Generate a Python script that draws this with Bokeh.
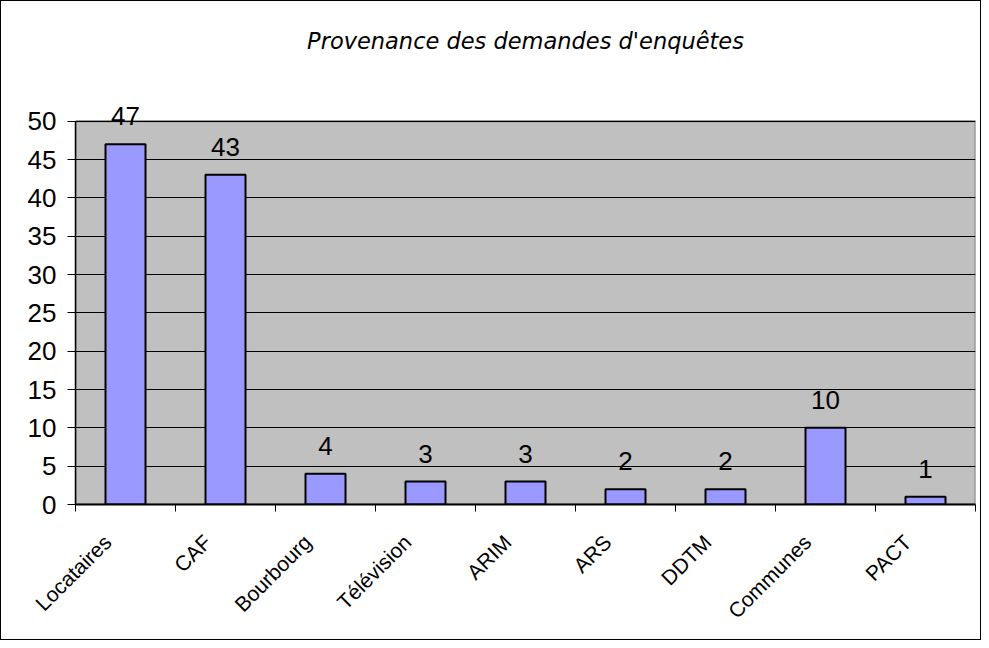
import math
from bokeh.plotting import figure
from bokeh.models import ColumnDataSource, FixedTicker, LinearAxis, Range1d, LabelSet, Title
from bokeh.core.properties import value
from bokeh.embed import file_html
from bokeh.resources import INLINE

categories = ["Locataires", "CAF", "Bourbourg", "Télévision", "ARIM", "ARS", "DDTM", "Communes", "PACT"]
values = [47, 43, 4, 3, 3, 2, 2, 10, 1]
y_ticks = [0, 5, 10, 15, 20, 25, 30, 35, 40, 45, 50]
title_text = "Provenance des demandes d'enquêtes"

n = len(categories)
ymax = y_ticks[-1]
xs = [i + 0.5 for i in range(n)]
src = ColumnDataSource(dict(x=xs, top=values, lab=[str(v) for v in values]))

# y range extends a little above the last tick so the top value label is not clipped
p = figure(width=981, height=640, output_backend="svg", toolbar_location=None,
           x_range=Range1d(0, n), y_range=Range1d(0, ymax * 1.08),
           x_axis_location=None, y_axis_location=None)
p.styles = {"border": "1px solid black", "box-sizing": "border-box"}
p.min_border_left = 74
p.min_border_right = 7
p.min_border_top = 89
p.min_border_bottom = 137

# spacer between frame and title
spacer = Title(text=" ", text_font_size="1px", standoff=29)
p.add_layout(spacer, "above")

p.title.text = title_text
p.title.align = "center"
p.title.text_font = "DejaVu Sans"
p.title.text_font_style = "italic"
p.title.text_font_size = "22.5px"
p.title.text_color = "#000000"
p.title.standoff = 10

p.background_fill_color = "white"
p.border_fill_color = "white"
p.outline_line_color = None

# plot area (grey wall) spanning the value axis range
p.quad(left=[0], right=[n], bottom=[0], top=[ymax], fill_color="#c0c0c0",
       line_color="#808080", line_width=2, level="image")

p.vbar(x="x", top="top", width=0.4, source=src, fill_color="#9999ff",
       line_color="black", line_width=2)

labels = LabelSet(x="x", y="top", text="lab", source=src, text_align="center",
                  text_baseline="bottom", y_offset=19, text_font=value("Liberation Sans"),
                  text_font_size="26px", text_color="black")
p.add_layout(labels)

# y axis
yax = LinearAxis(ticker=FixedTicker(ticks=y_ticks), bounds=(0, ymax))
yax.major_label_text_font = "Liberation Sans"
yax.major_label_text_font_size = "26px"
yax.major_label_text_color = "black"
yax.major_tick_out = 8
yax.major_tick_in = 0
yax.minor_tick_line_color = None
yax.axis_line_color = "black"
yax.axis_line_width = 1.5
yax.major_tick_line_color = "black"
yax.major_label_standoff = 11
p.add_layout(yax, "left")

# x axis: boundary ticks
xax = LinearAxis(ticker=FixedTicker(ticks=list(range(n + 1))))
xax.major_label_text_font_size = "0px"
xax.major_label_text_color = None
xax.major_tick_out = 7
xax.major_tick_in = 0
xax.minor_tick_line_color = None
xax.axis_line_color = "black"
xax.axis_line_width = 2
xax.major_tick_line_color = "black"
p.add_layout(xax, "below")

# category labels (anchored slightly left of the bar centre, as in the original)
lab_ticks = [i + 0.32 for i in range(n)]
xlab = LinearAxis(ticker=FixedTicker(ticks=lab_ticks),
                  major_label_overrides={t: c for t, c in zip(lab_ticks, categories)})
xlab.axis_line_color = None
xlab.major_tick_line_color = None
xlab.minor_tick_line_color = None
xlab.major_label_orientation = math.pi / 4
xlab.major_label_text_font = "Liberation Sans"
xlab.major_label_text_font_size = "21px"
xlab.major_label_text_color = "black"
xlab.major_label_standoff = 21
p.add_layout(xlab, "below")

p.xgrid.visible = False
p.ygrid.ticker = FixedTicker(ticks=y_ticks)
p.ygrid.grid_line_color = "black"
p.ygrid.grid_line_width = 1

open("out.html", "w").write(file_html(p, INLINE))
